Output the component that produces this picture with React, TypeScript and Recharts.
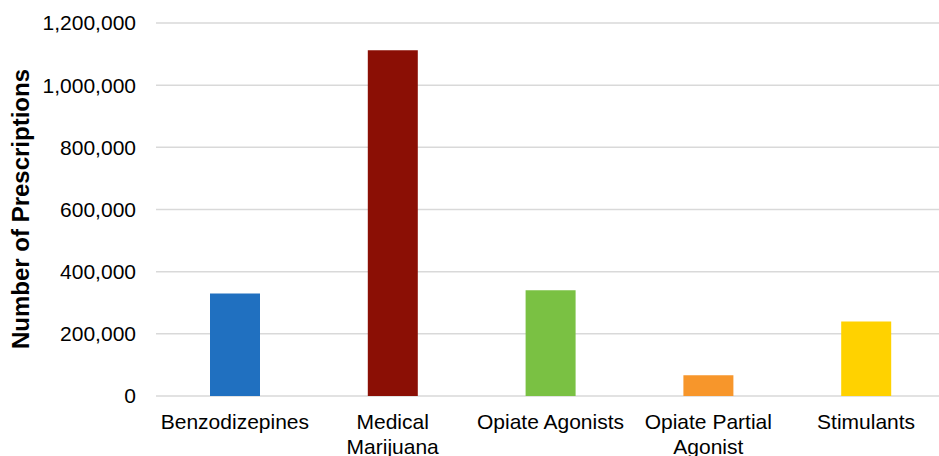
import React from 'react';
import { BarChart, Bar, XAxis, YAxis, CartesianGrid, Cell } from 'recharts';

const categories = ['Benzodizepines', 'Medical Marijuana', 'Opiate Agonists', 'Opiate Partial Agonist', 'Stimulants'];
const categoryLines = [['Benzodizepines'], ['Medical', 'Marijuana'], ['Opiate Agonists'], ['Opiate Partial', 'Agonist'], ['Stimulants']];
const prescriptions = [330000, 1112000, 340000, 67000, 240000];
const barColors = ['#2070C0', '#8B0F05', '#7AC143', '#F7962B', '#FFD200'];
const yTicks = [0, 200000, 400000, 600000, 800000, 1000000, 1200000];

const data = categories.map((c, i) => ({ name: c, value: prescriptions[i], idx: i }));

const FONT = '"Liberation Sans", Arial, sans-serif';

const XTick = (props: any) => {
  const { x, y, payload } = props;
  const idx = categories.indexOf(payload.value);
  const lines = categoryLines[idx] || [payload.value];
  return (
    <text x={x} y={y} textAnchor="middle" fontFamily={FONT} fontSize={21} fill="#000">
      {lines.map((l: string, i: number) => (
        <tspan key={i} x={x} dy={i === 0 ? 33 : 25}>{l}</tspan>
      ))}
    </text>
  );
};

const fmt = (v: number) => v.toLocaleString('en-US');

export default function App() {
  return (
    <div style={{ position: 'absolute', left: 0, top: 0, width: 939, height: 456, overflow: 'hidden', background: '#fff' }}>
      <BarChart
        width={945}
        height={456}
        data={data}
        margin={{ top: 23, right: 0, bottom: 0, left: 0 }}
        barCategoryGap={0}
      >
        <CartesianGrid vertical={false} stroke="#D9D9D9" strokeWidth={1.5} />
        <XAxis
          dataKey="name"
          axisLine={false}
          tickLine={false}
          tickSize={0}
          tickMargin={0}
          height={60}
          interval={0}
          tick={<XTick />}
        />
        <YAxis
          width={156}
          domain={[0, 1200000]}
          ticks={yTicks}
          axisLine={false}
          tickLine={false}
          tickSize={0}
          tickMargin={20}
          tickFormatter={fmt}
          tick={{ fontSize: 21, fontFamily: FONT, fill: '#000' }}
          label={() => (
            <text
              x={28.5}
              y={209}
              transform="rotate(-90 28.5 209)"
              textAnchor="middle"
              fontFamily={FONT}
              fontSize={24}
              fontWeight="bold"
              fill="#000"
            >
              Number of Prescriptions
            </text>
          )}
        />
        <Bar dataKey="value" barSize={50} isAnimationActive={false}>
          {data.map((d, i) => (
            <Cell key={i} fill={barColors[i]} />
          ))}
        </Bar>
      </BarChart>
    </div>
  );
}
